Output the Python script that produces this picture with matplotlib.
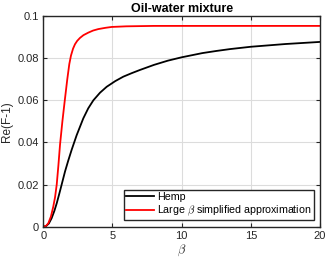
import matplotlib
matplotlib.use("Agg")
import matplotlib.pyplot as plt

beta_hemp = [0, 0.2, 0.4, 0.6, 0.8, 0.97, 1.15, 1.3, 1.57, 1.8, 2.05, 2.41, 2.89, 3.25, 3.62, 4.1, 4.58, 5.2, 5.78, 6.4, 6.99, 8.0, 9.0, 10.0, 11.5, 12.5, 13.5, 15.0, 17.5, 20.0]
re_hemp = [0, 0.0003, 0.0015, 0.004, 0.0075, 0.0111, 0.0155, 0.0193, 0.0262, 0.0313, 0.0365, 0.0434, 0.0514, 0.0562, 0.0600, 0.0636, 0.0664, 0.0691, 0.0712, 0.0729, 0.0744, 0.0768, 0.0788, 0.0804, 0.0824, 0.0834, 0.0843, 0.0854, 0.0867, 0.0877]

beta_approx = [0, 0.2, 0.36, 0.55, 0.72, 0.85, 0.97, 1.09, 1.21, 1.38, 1.55, 1.73, 1.88, 2.0, 2.15, 2.29, 2.45, 2.65, 2.9, 3.25, 3.6, 3.98, 4.5, 4.94, 6.0, 8.0, 20.0]
re_approx = [0, 0.0004, 0.0016, 0.0048, 0.0095, 0.0140, 0.020, 0.029, 0.039, 0.0500, 0.0598, 0.0698, 0.0772, 0.0812, 0.0845, 0.0866, 0.0882, 0.0896, 0.0909, 0.0921, 0.0931, 0.0938, 0.0944, 0.0948, 0.0951, 0.0953, 0.0953]

xticks = [0, 5, 10, 15, 20]
yticks = [0, 0.02, 0.04, 0.06, 0.08, 0.1]
ytick_labels = ["0", "0.02", "0.04", "0.06", "0.08", "0.1"]

plt.rcParams['font.family'] = ['Liberation Sans', 'DejaVu Sans']
plt.rcParams['mathtext.fontset'] = 'cm'

fig = plt.figure(figsize=(3.27, 2.63), dpi=100)
ax = fig.add_axes([43.3/327, 1-226.7/263, (320-43.3)/327, (226.7-16)/263])

ax.plot(beta_hemp, re_hemp, color='black', lw=1.3, label='Hemp', solid_joinstyle='round')
ax.plot(beta_approx, re_approx, color='#ff0000', lw=1.3, label=r'Large $\beta$ simplified approximation', solid_joinstyle='round')

ax.set_xlim(0, 20)
ax.set_ylim(0, 0.1)
ax.set_xticks(xticks)
ax.set_yticks(yticks)
ax.set_yticklabels(ytick_labels)
ax.grid(True, color='#dcdcdc', lw=0.8)
ax.set_axisbelow(True)
for s in ax.spines.values():
    s.set_linewidth(1.0)
    s.set_color('#262626')
ax.tick_params(direction='in', top=True, right=True, labelsize=8, length=3, width=0.8, colors='#262626', pad=3)
ax.set_title('Oil-water mixture', fontsize=9, fontweight='bold', pad=3)
ax.set_xlabel(r'$\beta$', fontsize=9, color='#262626', labelpad=1)
ax.set_ylabel('Re(F-1)', fontsize=8.5, color='#262626', labelpad=3)

leg = ax.legend(loc='lower right', fontsize=7.7, frameon=True, fancybox=False,
                framealpha=1, edgecolor='#262626', handlelength=2.6, handletextpad=0.3,
                borderpad=0.2, labelspacing=0.15, borderaxespad=0.6)
leg.get_frame().set_linewidth(1.0)

fig.savefig('out.png', dpi=100)
